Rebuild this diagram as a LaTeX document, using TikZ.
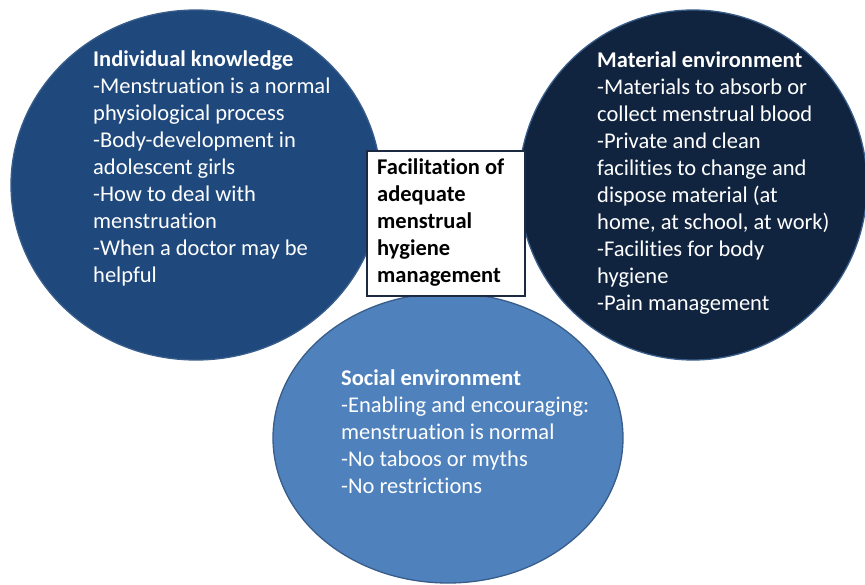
\documentclass[tikz,border=0pt]{standalone}
\usepackage{fontspec}
\setmainfont[Ligatures={NoCommon}]{Carlito}
\definecolor{knowblue}{HTML}{1F497D}
\definecolor{matblue}{HTML}{10243F}
\definecolor{socblue}{HTML}{4F81BD}
\definecolor{rimblue}{HTML}{385D8A}
\definecolor{boxrim}{HTML}{1B2A41}
\tikzset{
  blob/.style={draw=rimblue, line width=1.3pt},
  blobtext/.style={anchor=base west, inner sep=0pt, align=left, text=white,
    font=\fontsize{22.5}{27}\selectfont},
  centrebox/.style={draw=boxrim, fill=white, line width=1.8pt},
  boxtext/.style={anchor=base west, inner sep=0pt, align=left, text=black,
    font=\bfseries\fontsize{22.5}{27}\selectfont},
}
\begin{document}
\begin{tikzpicture}[x=1pt,y=-1pt]
\useasboundingbox (0,0) rectangle (865,585);
\begin{scope}
\clip (0,0) rectangle (865,585);
\fill[white] (0,0) rectangle (865,585);
\draw[blob, fill=knowblue] (196,185) ellipse [x radius=185, y radius=175];
\draw[blob, fill=matblue] (693,185) ellipse [x radius=174, y radius=175];
\draw[blob, fill=socblue] (448,438) ellipse [x radius=175, y radius=145];
\end{scope}
\node[centrebox, minimum width=158pt, minimum height=145pt, anchor=north west, inner sep=0pt] (hub) at (366,150) {};
% anchors are at the baseline of the last line of each block
\node[boxtext] (hubtext) at (377,283) {Facilitation of\\adequate\\menstrual\\hygiene\\management};
\node[blobtext] (know) at (93,283) {{\bfseries Individual knowledge}\\-Menstruation is a normal\\physiological process\\-Body-development in\\adolescent girls\\-How to deal with\\menstruation\\-When a doctor may be\\helpful};
\node[blobtext] (mat) at (597,311) {{\bfseries Material environment}\\-Materials to absorb or\\collect menstrual blood\\-Private and clean\\facilities to change and\\dispose material (at\\home, at school, at work)\\-Facilities for body\\hygiene\\-Pain management};
\node[blobtext] (soc) at (341,493) {{\bfseries Social environment}\\-Enabling and encouraging:\\menstruation is normal\\-No taboos or myths\\-No restrictions};
\end{tikzpicture}
\end{document}
